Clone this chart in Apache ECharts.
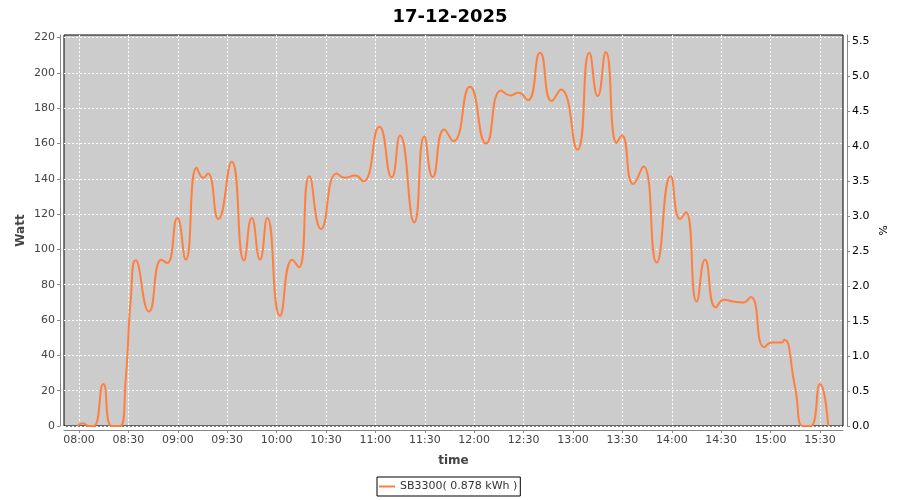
<!DOCTYPE html>
<html><head><meta charset="utf-8">
<script src="https://cdn.jsdelivr.net/npm/echarts@6/dist/echarts.min.js"></script>
<style>html,body{margin:0;padding:0;background:#fff}#c{width:900px;height:500px}</style>
</head><body><div id="c"></div>
<script>
const chartTitle = '17-12-2025';
const seriesName = 'SB3300( 0.878 kWh )';
// time in minutes since midnight
const timeMin = [479, 482.4, 486, 489, 494.8, 499.9, 505, 508.4, 511.4, 514.4, 522.5, 530, 533.6, 539.7, 544.8,
  551.5, 555.5, 558.3, 564.6, 572.7, 580.2, 584.9, 589.9, 594.3, 602.1, 609.5, 613.6, 619.9, 627,
  636.5, 641.5, 647.6, 652.6, 662.4, 669.9, 674.9, 683.6, 689.7, 694.8, 701.8, 707.3, 717.4, 727.2,
  736.3, 741.7, 746.8, 752.5, 760, 767.1, 772.7, 782.6, 789.9, 795, 799.9, 806.5, 809.6, 816.6,
  822.7, 830.8, 839.3, 845, 848.6, 855.1, 860.2, 866.7, 871.7, 877.3, 883.4, 887.9, 896.2, 900.6,
  906.7, 908.3, 914.8, 919.8, 924.3, 930, 935];
const watt = [0, 1.5, 0, 0, 23.8, 0, 0, 27, 71.5, 93.8, 64.8, 94.2, 92.3, 117.8, 94.2,
  146.2, 140.5, 143, 117.2, 149.6, 93.8, 117.8, 94.2, 117.8, 62.4, 94.2, 89.8, 141.4, 111.6,
  143, 140.5, 141.8, 138.6, 169.4, 140.8, 164.5, 115.3, 164.1, 141, 167.9, 161.3, 192.1, 160,
  190, 187.2, 188.7, 184.5, 211.4, 184, 190.6, 156.5, 211.4, 186.8, 211.8, 160.3, 164.5, 137,
  147, 92.6, 141.4, 117.2, 121, 70.5, 94.2, 67.1, 71.5, 70.5, 70, 73, 44.6, 47.3,
  47.3, 48.8, 22.3, 0, 0, 23.8, 0];
const xTicks = [480, 510, 540, 570, 600, 630, 660, 690, 720, 750, 780, 810, 840, 870, 900, 930];
const leftTicks = [0, 20, 40, 60, 80, 100, 120, 140, 160, 180, 200, 220];
const rightTicks = [0, 0.5, 1, 1.5, 2, 2.5, 3, 3.5, 4, 4.5, 5, 5.5];

const FONT = 'DejaVu Sans';
function pad(n){ return (n < 10 ? '0' : '') + n; }
function fmtTime(v){ const m = Math.round(v); return pad(Math.floor(m/60)) + ':' + pad(m % 60); }

const data = timeMin.map((t, i) => [t, watt[i]]);
const chart = echarts.init(document.getElementById('c'), null, {renderer: 'canvas'});
chart.setOption({
  animation: false,
  backgroundColor: '#ffffff',
  textStyle: {fontFamily: FONT},
  title: {
    text: chartTitle, left: 'center', top: 3,
    textStyle: {fontFamily: FONT, fontSize: 18, fontWeight: 'bold', color: '#000'}
  },
  legend: {
    data: [seriesName], left: 377, top: 477,
    padding: [4, 3, 4, 2], borderColor: '#000', borderWidth: 1, borderRadius: 0,
    itemWidth: 16, itemHeight: 2, icon: 'rect',
    textStyle: {fontFamily: FONT, fontSize: 11, color: '#333'}
  },
  grid: {
    left: 64, top: 35, right: 57, bottom: 74, containLabel: false,
    show: true, backgroundColor: '#cccccc', borderColor: '#000', borderWidth: 1
  },
  xAxis: {
    type: 'value', min: 470.89, max: 943.96, offset: 4,
    name: 'time', nameLocation: 'middle', nameGap: 25, nameMoveOverlap: false,
    nameTextStyle: {fontFamily: FONT, fontSize: 12, fontWeight: 'bold', color: '#444'},
    axisLine: {show: true, onZero: false, lineStyle: {color: '#888', width: 1}},
    axisTick: {show: true, length: 3, lineStyle: {color: '#888'}, customValues: xTicks},
    axisLabel: {customValues: xTicks, formatter: fmtTime, fontFamily: FONT, fontSize: 11, color: '#444', margin: 5},
    splitLine: {show: true, lineStyle: {color: '#ffffff', type: [2, 2], width: 1}}
  },
  yAxis: [{
    type: 'value', min: 0, max: 221.4, position: 'left', offset: 4,
    name: 'Watt', nameLocation: 'middle', nameGap: 33, nameMoveOverlap: false,
    nameTextStyle: {fontFamily: FONT, fontSize: 12, fontWeight: 'bold', color: '#444'},
    axisLine: {show: true, lineStyle: {color: '#888', width: 1}},
    axisTick: {show: true, length: 3, lineStyle: {color: '#888'}, customValues: leftTicks},
    axisLabel: {customValues: leftTicks, fontFamily: FONT, fontSize: 11, color: '#444', margin: 5},
    splitLine: {show: true, lineStyle: {color: '#ffffff', type: [2, 2], width: 1}}
  }, {
    type: 'value', min: 0, max: 5.586, position: 'right', offset: 4,
    name: '%', nameLocation: 'middle', nameGap: 29, nameRotate: -90, nameMoveOverlap: false,
    nameTextStyle: {fontFamily: FONT, fontSize: 11, color: '#000'},
    axisLine: {show: true, lineStyle: {color: '#888', width: 1}},
    axisTick: {show: true, length: 3, lineStyle: {color: '#888'}, customValues: rightTicks},
    axisLabel: {customValues: rightTicks, formatter: v => v.toFixed(1), fontFamily: FONT, fontSize: 11, color: '#000', margin: 5},
    splitLine: {show: false}
  }],
  series: [{
    name: seriesName, type: 'line', xAxisIndex: 0, yAxisIndex: 0,
    data: data, smooth: 0.55, showSymbol: false, symbol: 'none', clip: true,
    lineStyle: {color: '#ff7f3f', width: 2}, itemStyle: {color: '#ff7f3f'}
  }]
});
</script>
</body></html>
